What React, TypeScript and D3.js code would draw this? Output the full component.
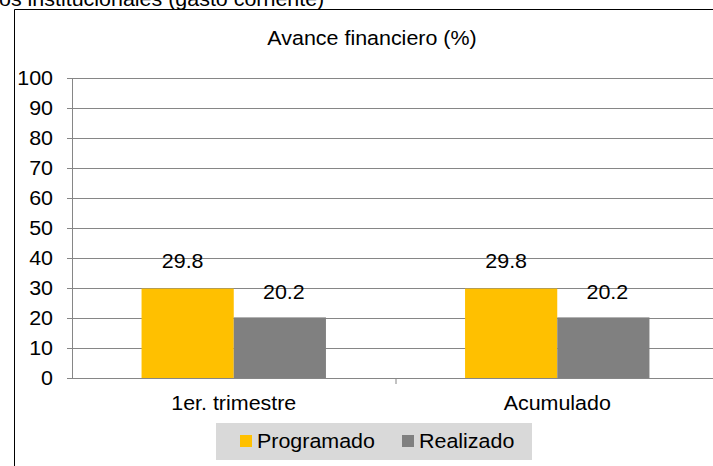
import React from "react";
import * as d3 from "d3";

const categories = ["1er. trimestre", "Acumulado"];
const series = ["Programado", "Realizado"];
const programado = [29.8, 29.8];
const realizado = [20.2, 20.2];
const yTicks = [0, 10, 20, 30, 40, 50, 60, 70, 80, 90, 100];
const colors = ["#ffc000", "#808080"];

const W = 713;
const H = 466;
const FONT = "'Liberation Sans', Arial, sans-serif";
const FS = 19.5;
const SX = 1.1; // reference text is slightly wide

export default function App() {
  const svgRef = React.useRef<SVGSVGElement>(null);

  React.useEffect(() => {
    const svg = d3.select(svgRef.current);
    svg.selectAll("*").remove();

    const label = (
      g: d3.Selection<any, any, any, any>,
      x: number,
      y: number,
      txt: string,
      anchor = "start"
    ) =>
      g
        .append("text")
        .attr("transform", `translate(${x},${y}) scale(${SX},1)`)
        .attr("text-anchor", anchor)
        .attr("font-family", FONT)
        .attr("font-size", FS)
        .attr("fill", "#000")
        .text(txt);

    const left = 72;
    const step = 323.5;
    const top = 78;
    const bottom = 378;

    const x0 = d3
      .scaleBand()
      .domain(categories)
      .range([left, left + step * categories.length]);
    const bw = x0.bandwidth();
    const groupW = bw * 0.57;
    const x1 = d3
      .scaleBand()
      .domain(series)
      .range([(bw - groupW) / 2, (bw + groupW) / 2]);
    const y = d3.scaleLinear().domain([0, 100]).range([bottom, top]);

    // outer frame (only top and left visible in the crop)
    svg
      .append("path")
      .attr("d", `M14.5,${H + 5} L14.5,9.5 L${W + 5},9.5`)
      .attr("fill", "none")
      .attr("stroke", "#000")
      .attr("stroke-width", 1);

    // header text, cut off by the crop
    label(svg, -1, 6, "os institucionales (gasto corriente)");

    // title
    label(svg, 372, 45, "Avance financiero (%)", "middle");

    // gridlines
    svg
      .append("g")
      .selectAll("line")
      .data(yTicks)
      .join("line")
      .attr("x1", left)
      .attr("x2", W + 10)
      .attr("y1", (d) => Math.round(y(d)) + 0.5)
      .attr("y2", (d) => Math.round(y(d)) + 0.5)
      .attr("stroke", "#868686")
      .attr("stroke-width", 1);

    // y axis
    const yAxis = d3.axisLeft(y).tickValues(yTicks).tickSize(5).tickFormat(() => "");
    const gy = svg
      .append("g")
      .attr("transform", `translate(${left},0)`)
      .call(yAxis);
    gy.select(".domain").attr("stroke", "#868686").attr("d", `M0.5,${top}V${bottom}`);
    gy.selectAll(".tick line").attr("stroke", "#868686");
    yTicks.forEach((t) => label(svg, 53, y(t) + 7, String(t), "end"));

    // bars
    const data = categories.map((c, i) => ({
      cat: c,
      vals: [programado[i], realizado[i]],
    }));
    const groups = svg
      .append("g")
      .selectAll("g")
      .data(data)
      .join("g")
      .attr("transform", (d) => `translate(${x0(d.cat)},0)`);

    groups
      .selectAll("rect")
      .data((d) => d.vals.map((v, j) => ({ v, s: series[j], j })))
      .join("rect")
      .attr("x", (d) => x1(d.s)!)
      .attr("width", x1.bandwidth())
      .attr("y", (d) => y(d.v))
      .attr("height", (d) => bottom - y(d.v))
      .attr("fill", (d) => colors[d.j]);

    groups.each(function (d) {
      const g = d3.select(this);
      d.vals.forEach((v, j) => {
        const cx = x1(series[j])! + x1.bandwidth() / 2 + (j === 0 ? -5 : 4);
        label(g, cx, y(v) - (j === 0 ? 21 : 18), v.toFixed(1), "middle");
      });
    });

    // x axis
    const gx = svg.append("g").attr("transform", `translate(0,${bottom})`);
    gx.append("line")
      .attr("x1", left)
      .attr("x2", W + 10)
      .attr("y1", 0.5)
      .attr("y2", 0.5)
      .attr("stroke", "#868686");
    gx.selectAll("line.tk")
      .data(categories.slice(1))
      .join("line")
      .attr("class", "tk")
      .attr("x1", (d) => x0(d)! + 0.5)
      .attr("x2", (d) => x0(d)! + 0.5)
      .attr("y1", 0)
      .attr("y2", 6)
      .attr("stroke", "#868686");
    categories.forEach((c) => label(gx, x0(c)! + bw / 2, 32, c, "middle"));

    // legend
    const lg = svg.append("g").attr("transform", "translate(216,423)");
    lg.append("rect")
      .attr("width", 316)
      .attr("height", 37)
      .attr("fill", "#d9d9d9");
    const items = [
      { name: series[0], x: 24 },
      { name: series[1], x: 186 },
    ];
    items.forEach((it, i) => {
      lg.append("rect")
        .attr("x", it.x)
        .attr("y", 12)
        .attr("width", 12)
        .attr("height", 12)
        .attr("fill", colors[i]);
      label(lg, it.x + 17, 25, it.name);
    });
  }, []);

  return (
    <svg
      ref={svgRef}
      width={W}
      height={H}
      style={{ position: "absolute", left: 0, top: 0, background: "#fff" }}
    />
  );
}
